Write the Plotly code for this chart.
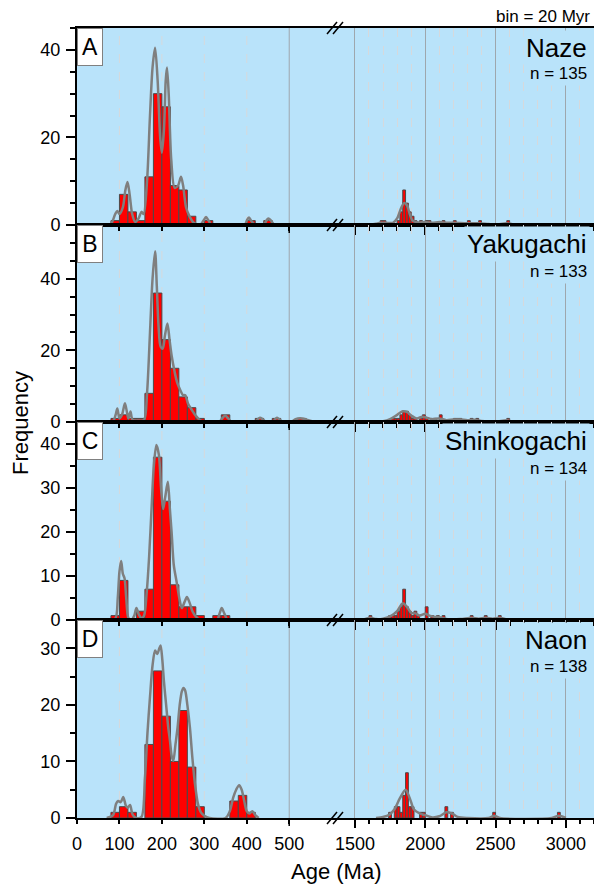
import plotly.graph_objects as go

# ---------------- DATA ----------------
BIN_WIDTH = 20  # Myr

panel_letters = ["A", "B", "C", "D"]
panel_names = ["Naze", "Yakugachi", "Shinkogachi", "Naon"]
panel_n = [135, 133, 134, 138]

# histogram: bin start ages (Ma) and counts
naze_bins = [80, 100, 120, 140, 160, 180, 200, 220, 240, 260, 300, 400, 440,
             1680, 1700, 1800, 1820, 1840, 1860, 1880, 1900, 1920, 1960, 2000, 2020,
             2120, 2200, 2300, 2380, 2580]
naze_counts = [1, 7, 3, 1, 11, 30, 27, 9, 8, 2, 1, 1, 1,
               1, 1, 1, 3, 8, 5, 3, 2, 1, 1, 1, 1,
               1, 1, 1, 1, 1]

yaku_bins = [80, 100, 120, 140, 160, 180, 200, 220, 240, 260, 280, 340, 420, 460, 520,
             1760, 1780, 1800, 1820, 1840, 1860, 1880, 1900, 1920, 1960, 1980, 2000,
             2040, 2060, 2100, 2200, 2220, 2240, 2320, 2360, 2580]
yaku_counts = [1, 2, 1, 1, 8, 36, 23, 15, 7, 4, 1, 2, 1, 1, 1,
               1, 1, 1, 2, 3, 3, 2, 1, 1, 1, 2, 1,
               1, 1, 2, 1, 1, 1, 1, 1, 1]

shin_bins = [80, 100, 140, 160, 180, 200, 220, 240, 260, 280, 320, 340,
             1600, 1740, 1760, 1780, 1800, 1820, 1840, 1860, 1880, 1900, 1920, 1940,
             2000, 2040, 2080, 2120, 2320, 2420, 2520]
shin_counts = [1, 9, 2, 7, 37, 27, 8, 3, 3, 1, 1, 1,
               1, 1, 1, 1, 2, 3, 7, 3, 2, 1, 2, 1,
               3, 1, 1, 1, 1, 1, 1]

naon_bins = [80, 100, 120, 160, 180, 200, 220, 240, 260, 280, 360, 380, 400,
             1740, 1780, 1800, 1820, 1840, 1860, 1880, 1900, 1960, 1980, 2140, 2180,
             2480, 2940]
naon_counts = [1, 2, 1, 13, 26, 18, 10, 19, 9, 2, 3, 4, 1,
               1, 2, 2, 1, 4, 8, 2, 2, 1, 1, 2, 1,
               1, 1]

# KDE curves, age (Ma) and scaled density
naze_kde_x = [60, 80, 90, 95, 100, 108, 114, 119, 124, 130, 137, 145, 152, 157, 165, 172, 178, 184,
              190, 196, 200, 205, 209, 212, 216, 222, 230, 238, 245, 250, 257, 265, 275, 290, 298,
              304, 310, 318, 395, 400, 405, 410, 420, 440, 446, 451, 457, 465, 480,
              1600, 1650, 1680, 1720, 1770, 1800, 1830, 1850, 1870, 1890, 1910, 1950, 2000,
              2050, 2100, 2150, 2200, 2300, 2380, 2450, 2500, 2580, 2620, 2700]
naze_kde_y = [0, 0.3, 2.5, 3.2, 2.5, 4, 8, 9.8, 7, 2.5, 0.7, 1.5, 3, 2.5, 10, 25, 36, 40.5,
              33, 20, 16.5, 22, 33, 36, 30, 15, 8.5, 9, 11, 9, 4, 2, 0.5, 0, 1,
              1.8, 1, 0, 0, 1, 1.7, 1, 0, 0, 1, 1.5, 1, 0, 0,
              0, 0.3, 0.5, 0.5, 0.5, 1.5, 4, 5, 4.5, 2.5, 1, 0.6, 0.7,
              0.5, 0.7, 0.5, 0.5, 0.4, 0.4, 0.2, 0.1, 0.4, 0.2, 0]

yaku_kde_x = [60, 85, 91, 95, 100, 106, 113, 118, 121, 126, 131, 145, 158, 165, 172, 178, 184, 188,
              192, 197, 202, 207, 213, 218, 223, 230, 236, 243, 250, 255, 262, 270, 278, 290, 305,
              335, 342, 349, 356, 365, 420, 426, 431, 437, 445, 462, 467, 471, 476, 485, 505,
              515, 530, 545, 560,
              1650, 1700, 1750, 1800, 1840, 1870, 1900, 1940, 1980, 2010, 2050, 2100, 2150,
              2200, 2250, 2300, 2350, 2400, 2500, 2580, 2620, 2700]
yaku_kde_y = [0, 0.3, 2, 3.8, 1, 2, 5.2, 2.5, 1, 2.9, 0.6, 0.4, 0.6, 8, 25, 40, 47.7, 38,
              27, 21, 20.5, 24, 27.5, 23, 18.5, 14, 11, 9, 7.5, 7.5, 5, 3.5, 2, 0.5, 0,
              0, 1, 1.8, 1, 0, 0, 0.8, 1.2, 0.8, 0, 0, 0.8, 1.2, 0.8, 0, 0,
              0.8, 1, 0.5, 0,
              0, 0.2, 0.8, 2, 3, 2.8, 1.8, 1, 1.5, 1.2, 0.8, 1, 0.5,
              0.7, 0.7, 0.5, 0.6, 0.3, 0.1, 0.5, 0.1, 0]

shin_kde_x = [70, 90, 96, 100, 104, 108, 112, 116, 121, 128, 135, 140, 146, 152, 158, 164, 170, 176,
              181, 187, 193, 198, 203, 208, 214, 219, 223, 228, 235, 241, 247, 253, 259, 265, 272,
              280, 290, 330, 336, 341, 347, 355, 370,
              1550, 1580, 1610, 1650, 1700, 1760, 1800, 1840, 1870, 1900, 1930, 1960, 2000,
              2030, 2070, 2110, 2160, 2250, 2330, 2380, 2430, 2480, 2530, 2580, 2620]
shin_kde_y = [0, 0.3, 5, 11, 13.4, 10.5, 9.5, 5, 0.5, 0, 1, 2.7, 1.2, 0.4, 1, 6, 14.5, 26,
              35, 39.8, 37.5, 30, 25.2, 28, 31.4, 25, 19.8, 12.5, 8.5, 5, 2.7, 4, 5.2, 4, 2,
              0.8, 0, 0, 1.5, 2.7, 1.5, 0, 0,
              0, 0.3, 0.5, 0.2, 0.3, 1, 2, 3.8, 3, 1.6, 1.5, 1, 1.4,
              1, 0.7, 0.6, 0.2, 0.2, 0.5, 0.3, 0.5, 0.3, 0.5, 0.1, 0]

naon_kde_x = [70, 85, 92, 97, 103, 109, 115, 119, 125, 131, 140, 152, 160, 166, 172, 178, 184, 189,
              194, 197, 201, 205, 210, 215, 219, 223, 227, 232, 237, 242, 247, 251, 255, 260, 266,
              272, 278, 285, 292, 300, 312, 350, 360, 368, 375, 382, 388, 394, 400, 406, 413, 420,
              428,
              1650, 1700, 1740, 1780, 1820, 1860, 1890, 1920, 1960, 2000, 2050, 2100, 2150,
              2190, 2230, 2300, 2450, 2490, 2530, 2900, 2950, 3000]
naon_kde_y = [0, 0.5, 2.5, 3, 2.8, 3.7, 2.2, 1.8, 2.3, 0.6, 0, 0.2, 7, 15, 21.4, 27, 29.6, 29,
              30, 30.5, 28, 24, 20, 16, 13.7, 11, 10.1, 13, 16, 20, 22.4, 23, 22.5, 20, 16,
              10.5, 6, 2.5, 1, 0.4, 0, 0, 1.2, 3.6, 5, 5.8, 5, 3, 1.2, 0.8, 1.2, 0.5,
              0,
              0, 0.2, 0.5, 1.5, 3.5, 5, 3.5, 1.5, 0.8, 0.5, 0.1, 0.3, 1,
              0.8, 0.2, 0, 0, 0.4, 0, 0, 0.4, 0]

bins_all = [naze_bins, yaku_bins, shin_bins, naon_bins]
counts_all = [naze_counts, yaku_counts, shin_counts, naon_counts]
kde_x_all = [naze_kde_x, yaku_kde_x, shin_kde_x, naon_kde_x]
kde_y_all = [naze_kde_y, yaku_kde_y, shin_kde_y, naon_kde_y]

y_max = [45, 55, 45, 35]
y_dtick = [20, 20, 10, 10]
left_tick_vals = [0, 100, 200, 300, 400, 500]
left_minor_grid = [100, 200, 300, 400]
left_major_grid = [500]

# ---------------- LAYOUT / STYLE ----------------
W, H = 594, 885
FONT = "Arial, Liberation Sans, sans-serif"
BG = "#B9E3FA"
MINOR_GRID = "#D6D9DC"
MAJOR_GRID = "#9EA7AD"
PX_L, PX_SPLIT = 77, 341
LEFT_RANGE = [0, 622]
RIGHT_RANGE = [1401, 3200]
panel_px = [(28, 225), (225, 422), (422, 620), (620, 818)]
BREAK_X = 335


def px_x(p):
    return p / W


def px_y(p):
    return 1 - p / H


fig = go.Figure()
layout = {}
shapes = []
annotations = []
tickfont = dict(family=FONT, size=18, color="black")

for i in range(4):
    top, bot = panel_px[i]
    xl, xr, yi = 2 * i + 1, 2 * i + 2, i + 1
    xl_name = "x" if xl == 1 else f"x{xl}"
    xr_name = f"x{xr}"
    y_name = "y" if yi == 1 else f"y{yi}"
    show = (i == 3)

    layout["xaxis" if xl == 1 else f"xaxis{xl}"] = dict(
        domain=[px_x(PX_L), px_x(PX_SPLIT)], range=LEFT_RANGE, anchor=y_name,
        tickmode="array", tickvals=left_tick_vals, ticktext=[str(v) for v in left_tick_vals],
        ticks="outside", ticklen=4, tickwidth=1.5, tickcolor="black",
        showgrid=False, automargin=False,
        showline=True, linecolor="black", linewidth=2, mirror=True,
        showticklabels=show, tickfont=tickfont, zeroline=False,
        ticklabelstandoff=4,
    )
    layout[f"xaxis{xr}"] = dict(
        domain=[px_x(PX_SPLIT), 1.0], range=RIGHT_RANGE, anchor=y_name,
        tick0=0, dtick=500, automargin=False,
        ticks="outside", ticklen=8, tickwidth=1.5, tickcolor="black",
        showgrid=True, gridcolor=MAJOR_GRID, gridwidth=1,
        minor=dict(dtick=100, ticks="outside", ticklen=4, tickwidth=1.5, tickcolor="black",
                   showgrid=True, gridcolor=MINOR_GRID, griddash="dash", gridwidth=1),
        showline=True, linecolor="black", linewidth=2, mirror=True,
        showticklabels=show, tickfont=tickfont, zeroline=False,
    )
    layout["yaxis" if yi == 1 else f"yaxis{yi}"] = dict(
        domain=[px_y(bot), px_y(top)], range=[0, y_max[i]], anchor=xl_name,
        tick0=0, dtick=y_dtick[i], ticks="outside", ticklen=9, tickwidth=1.5, tickcolor="black",
        minor=dict(dtick=5, ticks="outside", ticklen=5, tickwidth=1.5, tickcolor="black"),
        showline=True, linecolor="black", linewidth=2, showgrid=False, zeroline=False,
        tickfont=tickfont, automargin=False, ticklabelstandoff=2,
    )

    # vertical grid lines of the left segment (dashed every 100, solid at 500)
    for gx in left_minor_grid:
        shapes.append(dict(type="line", xref=xl_name, yref="paper", x0=gx, x1=gx,
                           y0=px_y(bot), y1=px_y(top),
                           line=dict(color=MINOR_GRID, width=1, dash="dash"), layer="below"))
    for gx in left_major_grid:
        shapes.append(dict(type="line", xref=xl_name, yref="paper", x0=gx, x1=gx,
                           y0=px_y(bot), y1=px_y(top),
                           line=dict(color=MAJOR_GRID, width=1), layer="below"))
        # longer (major) tick
        shapes.append(dict(type="line", xref=xl_name, yref="paper", x0=gx, x1=gx,
                           y0=px_y(bot), y1=px_y(bot + 8),
                           line=dict(color="black", width=1.5), layer="above"))

    # data traces
    bins, counts = bins_all[i], counts_all[i]
    for axname, lo, hi in ((xl_name, LEFT_RANGE[0], LEFT_RANGE[1]),
                           (xr_name, RIGHT_RANGE[0], RIGHT_RANGE[1])):
        cx = [b + BIN_WIDTH / 2 for b in bins if lo <= b < hi]
        cy = [c for b, c in zip(bins, counts) if lo <= b < hi]
        fig.add_trace(go.Bar(x=cx, y=cy, width=BIN_WIDTH, xaxis=axname, yaxis=y_name,
                             marker=dict(color="#FF0000", line=dict(color="#4A4A4A", width=1)),
                             showlegend=False, hoverinfo="skip"))
        kx = [x for x in kde_x_all[i] if lo <= x <= hi]
        ky = [y for x, y in zip(kde_x_all[i], kde_y_all[i]) if lo <= x <= hi]
        fig.add_trace(go.Scatter(x=kx, y=ky, mode="lines", xaxis=axname, yaxis=y_name,
                                 line=dict(color="#7F7F7F", width=2.5, shape="spline", smoothing=0.8),
                                 showlegend=False, hoverinfo="skip"))

    # panel letter box
    annotations.append(dict(text=panel_letters[i], xref="paper", yref="paper",
                            x=px_x(PX_L), y=px_y(top), xanchor="left", yanchor="top",
                            showarrow=False, font=dict(family=FONT, size=23, color="black"),
                            bgcolor="white", bordercolor="#808080", borderwidth=1, borderpad=1,
                            width=22, height=34))
    # panel name and n
    annotations.append(dict(text=panel_names[i], xref="paper", yref="paper",
                            x=px_x(590), y=px_y(top + 19.5), xanchor="right", yanchor="middle",
                            showarrow=False, font=dict(family=FONT, size=26, color="black"),
                            bgcolor=BG, borderpad=2))
    annotations.append(dict(text=f"n = {panel_n[i]}", xref="paper", yref="paper",
                            x=px_x(590), y=px_y(top + 46), xanchor="right", yanchor="middle",
                            showarrow=False, font=dict(family=FONT, size=17, color="black"),
                            bgcolor=BG, borderpad=2))

# axis-break marks
for yb in [28, 225, 422, 620, 818]:
    for dx in (-8, -2):
        shapes.append(dict(type="line", xref="paper", yref="paper",
                           x0=px_x(BREAK_X + dx), y0=px_y(yb + 6),
                           x1=px_x(BREAK_X + dx + 10), y1=px_y(yb - 6),
                           line=dict(color="black", width=1.5), layer="above"))

annotations.append(dict(text=f"bin = {BIN_WIDTH} Myr", xref="paper", yref="paper",
                        x=px_x(592), y=px_y(16), xanchor="right", yanchor="middle",
                        showarrow=False, font=dict(family=FONT, size=17, color="black")))
annotations.append(dict(text="Frequency", xref="paper", yref="paper",
                        x=px_x(20), y=px_y(423), xanchor="center", yanchor="middle", textangle=-90,
                        showarrow=False, font=dict(family=FONT, size=22, color="black")))
annotations.append(dict(text="Age (Ma)", xref="paper", yref="paper",
                        x=px_x(336), y=px_y(871), xanchor="center", yanchor="middle",
                        showarrow=False, font=dict(family=FONT, size=22, color="black")))

fig.update_layout(
    width=W, height=H, margin=dict(l=0, r=0, t=0, b=0, autoexpand=False),
    paper_bgcolor="white", plot_bgcolor=BG, barmode="overlay",
    shapes=shapes, annotations=annotations, **layout,
)

fig.write_html("out.html")
